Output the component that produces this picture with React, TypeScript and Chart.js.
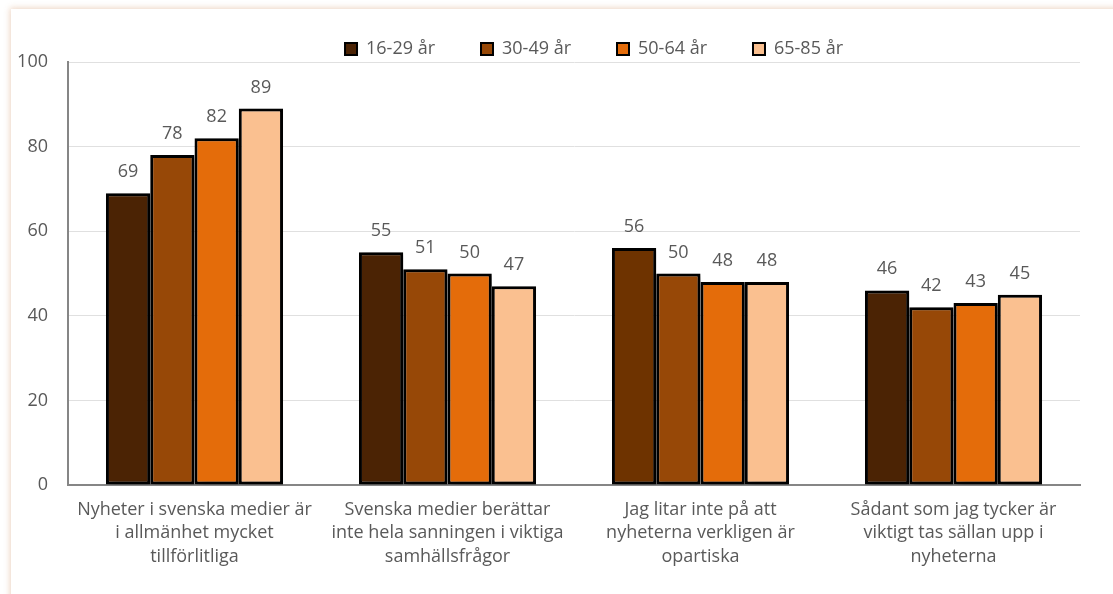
import React, { useEffect, useRef } from "react";
import { Chart, registerables } from "chart.js";

Chart.register(...registerables);

const categories: string[][] = [
  ["Nyheter i svenska medier är", "i allmänhet mycket", "tillförlitliga"],
  ["Svenska medier berättar", "inte hela sanningen i viktiga", "samhällsfrågor"],
  ["Jag litar inte på att", "nyheterna verkligen är", "opartiska"],
  ["Sådant som jag tycker är", "viktigt tas sällan upp i", "nyheterna"],
];

const seriesNames = ["16-29 år", "30-49 år", "50-64 år", "65-85 år"];
const age16_29 = [69, 55, 56, 46];
const age30_49 = [78, 51, 50, 42];
const age50_64 = [82, 50, 48, 43];
const age65_85 = [89, 47, 48, 45];
const yTicks = [0, 20, 40, 60, 80, 100];

const legendColors = ["#4b2304", "#974807", "#e46c0a", "#fac090"];
const color16_29 = ["#4b2304", "#4b2304", "#6e3300", "#4b2304"];

const FONT = "'Open Sans', 'Noto Sans', sans-serif";
const TEXT = "#595959";
const PAD_TOP = -6;
const PLOT_TOP = 62;
const LEGEND_SHIFT = 20;

const shadowPlugin = {
  id: "barShadow",
  beforeUpdate(chart: any) {
    const lg = chart.legend;
    if (lg && !lg._patchedFit) {
      const orig = lg.fit.bind(lg);
      lg.fit = function () {
        orig();
        this.height = PLOT_TOP - PAD_TOP;
      };
      const origDraw = lg.draw.bind(lg);
      lg.draw = function () {
        this.left += LEGEND_SHIFT;
        this.right += LEGEND_SHIFT;
        origDraw();
        this.left -= LEGEND_SHIFT;
        this.right -= LEGEND_SHIFT;
      };
      lg._patchedFit = true;
    }
  },
  beforeDatasetsDraw(chart: any) {
    const ctx = chart.ctx;
    ctx.save();
    ctx.shadowColor = "rgba(0,0,0,0.4)";
    ctx.shadowOffsetX = 4;
    ctx.shadowOffsetY = 2;
    ctx.shadowBlur = 5;
  },
  afterDatasetsDraw(chart: any) {
    chart.ctx.restore();
  },
};

const labelPlugin = {
  id: "valueLabels",
  afterDraw(chart: any) {
    const ctx = chart.ctx;
    ctx.save();
    ctx.font = `18px ${FONT}`;
    ctx.fillStyle = TEXT;
    ctx.textAlign = "center";
    ctx.textBaseline = "alphabetic";
    chart.data.datasets.forEach((ds: any, di: number) => {
      const meta = chart.getDatasetMeta(di);
      meta.data.forEach((el: any, i: number) => {
        ctx.fillText(String(ds.data[i]), el.x, el.y - 16);
      });
    });
    ctx.restore();
  },
};

export default function App() {
  const ref = useRef<HTMLCanvasElement>(null);
  useEffect(() => {
    if (!ref.current) return;
    const mk = (label: string, data: number[], bg: any) => ({
      label,
      data,
      backgroundColor: bg,
      borderColor: "#000000",
      borderWidth: 3,
      borderSkipped: false as any,
      barPercentage: 1,
      categoryPercentage: 0.7,
    });
    const chart = new Chart(ref.current, {
      type: "bar",
      data: {
        labels: categories,
        datasets: [
          mk(seriesNames[0], age16_29, color16_29),
          mk(seriesNames[1], age30_49, legendColors[1]),
          mk(seriesNames[2], age50_64, legendColors[2]),
          mk(seriesNames[3], age65_85, legendColors[3]),
        ],
      },
      options: {
        animation: false,
        responsive: false,
        maintainAspectRatio: false,
        layout: { padding: { left: 0, right: 33, top: PAD_TOP, bottom: 0 } },
        plugins: {
          tooltip: { enabled: false },
          legend: {
            display: true,
            position: "top",
            fullSize: false,
            labels: {
              boxWidth: 12,
              boxHeight: 12,
              padding: 46,
              color: TEXT,
              font: { family: FONT, size: 18 },
              generateLabels: () =>
                seriesNames.map((n, i) => ({
                  text: n,
                  fillStyle: legendColors[i],
                  strokeStyle: "#000000",
                  lineWidth: 2,
                  datasetIndex: i,
                  hidden: false,
                  fontColor: TEXT,
                })),
            },
          },
        },
        scales: {
          x: {
            grid: { display: false, drawTicks: false },
            border: { display: true, color: "#868686", width: 2 },
            ticks: {
              color: TEXT,
              font: { family: FONT, size: 18, lineHeight: 1.3 },
              padding: 13,
              maxRotation: 0,
              autoSkip: false,
            },
            afterFit: (s: any) => {
              s.height = 109;
            },
          },
          y: {
            min: 0,
            max: 100,
            afterBuildTicks: (s: any) => {
              s.ticks = yTicks.map((v) => ({ value: v }));
            },
            grid: { color: "#e0e0e0", drawTicks: false, lineWidth: 1 },
            border: { display: true, color: "#868686", width: 2 },
            ticks: {
              color: TEXT,
              font: { family: FONT, size: 18 },
              padding: 20,
            },
            afterFit: (s: any) => {
              s.width = 68;
            },
          },
        },
      },
      plugins: [shadowPlugin, labelPlugin],
    });
    return () => chart.destroy();
  }, []);

  return (
    <div style={{ position: "absolute", left: 0, top: 0, width: 1113, height: 594, overflow: "hidden", background: "#ffffff" }}>
      <div
        style={{
          position: "absolute",
          left: 11,
          top: 9,
          width: 1120,
          height: 610,
          boxShadow: "0 0 6px 1px rgba(215,160,120,0.45)",
          background: "#ffffff",
        }}
      />
      <canvas ref={ref} width={1113} height={594} style={{ position: "absolute", left: 0, top: 0 }} />
    </div>
  );
}
